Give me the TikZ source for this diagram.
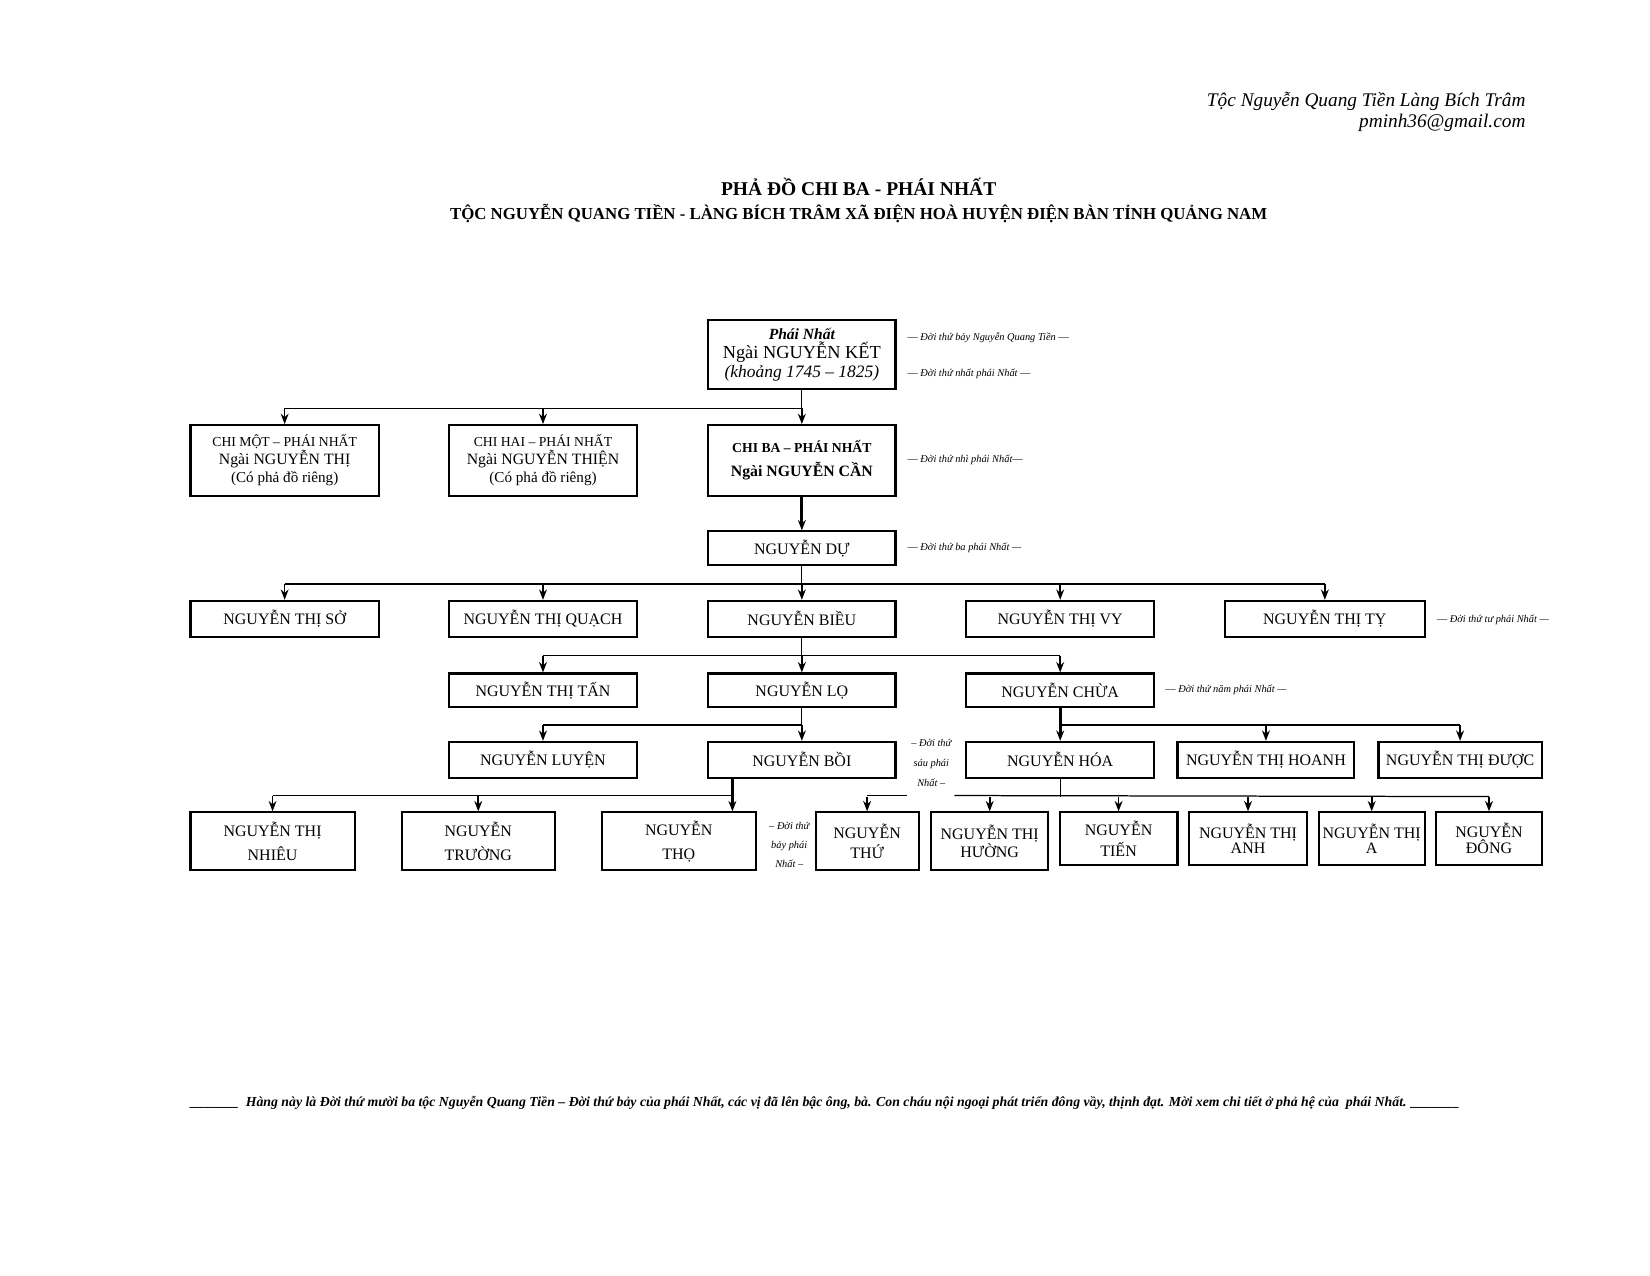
\documentclass[tikz,border=0pt]{standalone}
\usepackage{fontspec}
\setmainfont{Liberation Serif}
\usetikzlibrary{arrows.meta}

\begin{document}
\begin{tikzpicture}[x=0.01782cm, y=-0.01782cm,
  box/.style={draw, line width=1pt, align=center, inner sep=1pt, font=\fontsize{7.7}{9.2}\selectfont},
  boxsize/.style 2 args={minimum width=#1*0.01782cm, minimum height=#2*0.01782cm},
  linesep/.style={font=\fontsize{7.7}{#1}\selectfont},
  gen/.style={anchor=west, inner sep=0pt, font=\fontsize{5}{6}\selectfont\itshape},
  bar/.style={line width=0.6pt},
  drop/.style={line width=0.8pt, -{Stealth[length=5pt,width=3.8pt]}},
  heavy/.style={line width=1.4pt, -{Stealth[length=5pt,width=3.8pt]}}]
  \useasboundingbox (0,0) rectangle (1568,1212);
  % Header and titles
  \node[anchor=east, inner sep=0pt, font=\fontsize{9.3}{11}\selectfont\itshape] (toc) at (1450,96) {Tộc Nguyễn Quang Tiền Làng Bích Trâm};
  \node[anchor=east, inner sep=0pt, font=\fontsize{9.3}{11}\selectfont\itshape] (mail) at (1450,117) {pminh36@gmail.com};
  \node[font=\fontsize{9.4}{11}\selectfont\bfseries] (title) at (816,178) {PHẢ ĐỒ CHI BA - PHÁI NHẤT};
  \node[font=\fontsize{8.1}{10}\selectfont\bfseries] (subtitle) at (816,203) {TỘC NGUYỄN QUANG TIỀN - LÀNG BÍCH TRÂM XÃ ĐIỆN HOÀ HUYỆN ĐIỆN BÀN TỈNH QUẢNG NAM};
  % Generation 1 and 2
  \node[box, boxsize={178}{66}] (ket) at (762,337) {{\fontsize{7.5}{9.6}\selectfont\bfseries\itshape Phái Nhất}\\ {\fontsize{8.85}{9.6}\selectfont Ngài NGUYỄN KẾT}\\ {\fontsize{8.4}{9.6}\selectfont\itshape (khoảng 1745 – 1825)}};
  \node[box, boxsize={179}{67}, font=\fontsize{7.6}{8.6}\selectfont] (chimot) at (270.5,437.5) {{\fontsize{6.6}{8.6}\selectfont CHI MỘT – PHÁI NHẤT}\\ Ngài NGUYỄN THỊ\\ {\fontsize{7.3}{8.6}\selectfont (Có phả đồ riêng)}};
  \node[box, boxsize={178}{67}, font=\fontsize{7.6}{8.6}\selectfont] (chihai) at (516,437.5) {{\fontsize{6.6}{8.6}\selectfont CHI HAI – PHÁI NHẤT}\\ Ngài NGUYỄN THIỆN\\ {\fontsize{7.3}{8.6}\selectfont (Có phả đồ riêng)}};
  \node[box, boxsize={178}{67}, font=\fontsize{7.6}{8.6}\selectfont\bfseries] (chiba) at (762,437.5) {{\fontsize{6.6}{8.6}\selectfont CHI BA – PHÁI NHẤT}\\[3pt] Ngài NGUYỄN CẦN};
  % Generation 3 to 6
  \node[box, boxsize={178}{32}] (du) at (762,521) {NGUYỄN DỰ};
  \node[box, boxsize={179}{34}] (so) at (270.5,588) {NGUYỄN THỊ SỞ};
  \node[box, boxsize={178}{34}] (quach) at (516,588) {NGUYỄN THỊ QUẠCH};
  \node[box, boxsize={178}{34}] (bieu) at (762,588) {NGUYỄN BIỀU};
  \node[box, boxsize={179}{34}] (vy) at (1007.5,588) {NGUYỄN THỊ VY};
  \node[box, boxsize={190}{34}] (ty) at (1259,588) {NGUYỄN THỊ TỴ};
  \node[box, boxsize={178}{32}] (tan) at (516,656) {NGUYỄN THỊ TẤN};
  \node[box, boxsize={178}{32}] (lo) at (762,656) {NGUYỄN LỌ};
  \node[box, boxsize={179}{32}] (chua) at (1007.5,656) {NGUYỄN CHỪA};
  \node[box, boxsize={178}{34}] (luyen) at (516,722) {NGUYỄN LUYỆN};
  \node[box, boxsize={178}{34}] (boi) at (762,722) {NGUYỄN BỒI};
  \node[box, boxsize={179}{34}] (hoa) at (1007.5,722) {NGUYỄN HÓA};
  \node[box, boxsize={168}{34}] (hoanh) at (1203,722) {NGUYỄN THỊ HOANH};
  \node[box, boxsize={155}{34}] (duoc) at (1387.5,722) {NGUYỄN THỊ ĐƯỢC};
  % Generation 7
  \node[box, boxsize={156}{55}, linesep=11.6] (nhieu) at (259,799.5) {NGUYỄN THỊ\\ NHIÊU};
  \node[box, boxsize={145}{55}, linesep=11.6] (truong) at (454.5,799.5) {NGUYỄN\\ TRƯỜNG};
  \node[box, boxsize={146}{55}, linesep=11.6] (tho) at (645,799.5) {NGUYỄN\\ THỌ};
  \node[box, boxsize={98}{55}, linesep=10] (thu) at (824,799.5) {NGUYỄN\\ THỨ};
  \node[box, boxsize={111}{55}, linesep=9] (huong) at (940.5,799.5) {NGUYỄN THỊ\\ HƯỜNG};
  \node[box, boxsize={112}{50}, linesep=10] (tien) at (1063,797) {NGUYỄN\\ TIẾN};
  \node[box, boxsize={112}{50}, linesep=7.6] (anh) at (1186,797) {NGUYỄN THỊ\\ ANH};
  \node[box, boxsize={101}{50}, linesep=7.6] (thia) at (1303.5,797) {NGUYỄN THỊ\\ A};
  \node[box, boxsize={100}{50}, linesep=7.6] (dong) at (1415,797) {NGUYỄN\\ ĐÔNG};
  % Generation notes
  \foreach \gx/\gy/\gtxt [count=\i] in {862/321/{–– Đời thứ bảy Nguyễn Quang Tiền ––}, 862/355/{–– Đời thứ nhất phái Nhất ––}, 862/437/{–– Đời thứ nhì phái Nhất––}, 862/521/{–– Đời thứ ba phái Nhất —}, 1365/589/{–– Đời thứ tư phái Nhất —}, 1107/656/{–– Đời thứ năm phái Nhất —}}
    \node[gen] (gen\i) at (\gx,\gy) {\gtxt};
  \node[gen, anchor=center, align=center, font=\fontsize{5}{9.6}\selectfont\itshape] (gensau) at (885,725) {– Đời thứ\\ sáu phái\\ Nhất –};
  \node[gen, anchor=center, align=center, font=\fontsize{5}{9.3}\selectfont\itshape] (genbay) at (750,803) {– Đời thứ\\ bảy phái\\ Nhất –};
  % Footer
  \node[font=\fontsize{6.65}{8}\selectfont\bfseries\itshape] (footer) at (784,1048) {\_\_\_\_\_\_\_\ \ Hàng này là Đời thứ mười ba tộc Nguyễn Quang Tiền – Đời thứ bảy của phái Nhất, các vị đã lên bậc ông, bà. Con cháu nội ngoại phát triển đông vầy, thịnh đạt. Mời xem chi tiết ở phả hệ của\ \ phái Nhất. \_\_\_\_\_\_\_};
  % Phai Nhat to the three chi
  \draw[bar] (ket.south) -- ++(0,17) coordinate (j1);
  \draw[bar] (j1) -- (j1 -| chimot.north);
  \foreach \kid in {chimot,chihai,chiba}
    \draw[drop] (j1 -| \kid.north) -- (\kid.north);
  \draw[heavy] (chiba.south) -- (du.north);
  % Nguyen Du's children
  \draw[bar] (du.south) -- ++(0,17) coordinate (j3);
  \draw[bar] (j3 -| so.north) -- (j3 -| ty.north);
  \foreach \kid in {so,quach,bieu,vy,ty}
    \draw[drop] (j3 -| \kid.north) -- (\kid.north);
  % Nguyen Bieu's children
  \draw[bar] (bieu.south) -- ++(0,17) coordinate (j4);
  \draw[bar] (j4 -| tan.north) -- (j4 -| chua.north);
  \foreach \kid in {tan,lo,chua}
    \draw[drop] (j4 -| \kid.north) -- (\kid.north);
  % Nguyen Lo's children
  \draw[bar] (lo.south) -- ++(0,16) coordinate (j5);
  \draw[bar] (j5) -- (j5 -| luyen.north);
  \foreach \kid in {luyen,boi}
    \draw[drop] (j5 -| \kid.north) -- (\kid.north);
  % Nguyen Chua's children
  \draw[heavy] (chua.south) -- (hoa.north);
  \path (chua.south) ++(0,16) coordinate (j5b);
  \draw[bar] (j5b) -- (j5b -| duoc.north);
  \foreach \kid in {hoanh,duoc}
    \draw[drop] (j5b -| \kid.north) -- (\kid.north);
  % Nguyen Boi's children
  \coordinate (j6) at (696,756);
  \draw[heavy] (boi.south -| j6) -- (j6 |- tho.north);
  \draw[bar] (j6) -- (j6 -| nhieu.north);
  \foreach \kid in {nhieu,truong}
    \draw[drop] (j6 -| \kid.north) -- (\kid.north);
  % Nguyen Hoa's children
  \draw[bar] (hoa.south) -- ++(0,17) coordinate (j7);
  \coordinate (gapl) at (862,756);
  \coordinate (gapr) at (907,756);
  \draw[bar] (gapl) -- (gapl -| thu.north);
  \draw[bar] (gapr) -- (j7 -| dong.north);
  \foreach \kid in {thu,huong,tien,anh,thia,dong}
    \draw[drop] (j7 -| \kid.north) -- (\kid.north);
\end{tikzpicture}
\end{document}
